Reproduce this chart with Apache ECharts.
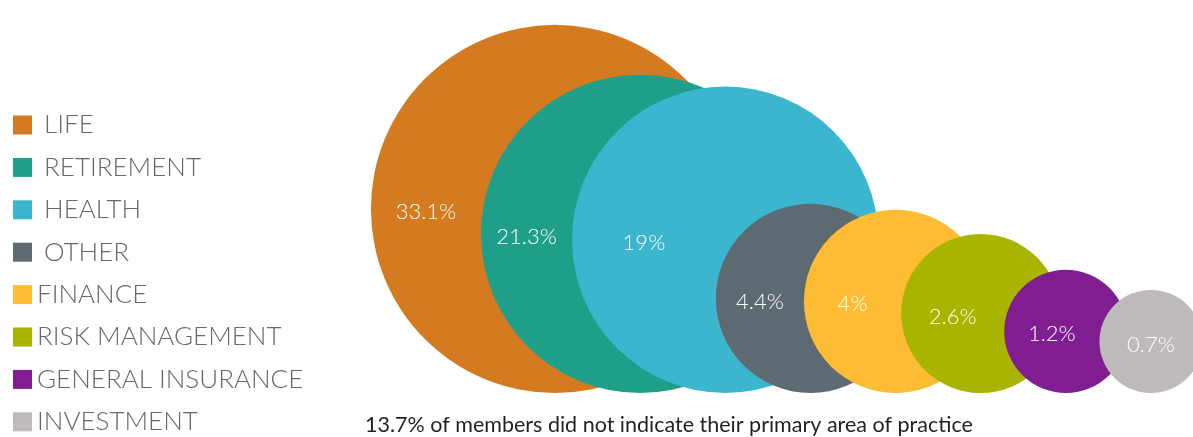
<!DOCTYPE html>
<html>
<head>
<meta charset="utf-8">
<script src="https://cdn.jsdelivr.net/npm/echarts@6/dist/echarts.min.js"></script>
<style>
  html, body { margin: 0; padding: 0; background: #fff; }
  #main { width: 1193px; height: 437px; }
</style>
</head>
<body>
<div id="main"></div>
<script>
// data
var categories = ['LIFE', 'RETIREMENT', 'HEALTH', 'OTHER', 'FINANCE', 'RISK MANAGEMENT', 'GENERAL INSURANCE', 'INVESTMENT'];
var shares = [33.1, 21.3, 19, 4.4, 4, 2.6, 1.2, 0.7];
var labels = ['33.1%', '21.3%', '19%', '4.4%', '4%', '2.6%', '1.2%', '0.7%'];
var note = '13.7% of members did not indicate their primary area of practice';

var colors = ['#D47B22', '#1F9E8A', '#3CB5CE', '#5E6A72', '#FDBC33', '#A9B400', '#7F1D91', '#BDBAB9'];

// layout
var W = 1193, H = 437;
var gridLeft = 555, gridRight = 42, baseY = 393;
var step = (W - gridLeft - gridRight) / (categories.length - 1);

// radius from value (bubble sizes were drawn by hand, this follows them roughly)
function radius(v) { return 58 * Math.pow(v, 0.33); }
var radii = shares.map(radius);

var myChart = echarts.init(document.getElementById('main'));

var series = categories.map(function (name, i) {
    var r = radii[i];
    // label sits in the middle of the part of the circle still visible
    var nextLeft = i < categories.length - 1 ? step - radii[i + 1] : r;
    var dx = (nextLeft - r) / 2;
    return {
        name: name,
        type: 'scatter',
        clip: false,
        silent: true,
        symbol: 'circle',
        symbolSize: r * 2,
        itemStyle: { color: colors[i], opacity: 1 },
        label: {
            show: true,
            position: 'inside',
            offset: [dx, 3],
            formatter: labels[i],
            color: '#fff',
            fontFamily: 'Lato',
            fontSize: 22,
            fontWeight: 300
        },
        emphasis: { disabled: true },
        data: [[name, r]]
    };
});

myChart.setOption({
    animation: false,
    title: {
        text: note,
        left: 365,
        top: 414,
        padding: 0,
        textStyle: {
            fontFamily: 'Lato',
            fontSize: 21.5,
            fontWeight: 'normal',
            color: '#231F20'
        }
    },
    legend: {
        orient: 'vertical',
        left: 13,
        top: 112,
        padding: 0,
        icon: 'rect',
        itemWidth: 19,
        itemHeight: 19,
        itemGap: 16.4,
        selectedMode: false,
        data: categories,
        formatter: function (name) {
            // the first four entries have an extra space in the original
            return categories.indexOf(name) < 4 ? ' ' + name : name;
        },
        textStyle: {
            fontFamily: 'Lato',
            fontSize: 26,
            lineHeight: 26,
            fontWeight: 300,
            color: '#666769'
        }
    },
    grid: {
        left: gridLeft,
        right: gridRight,
        top: 0,
        bottom: H - baseY
    },
    xAxis: {
        type: 'category',
        data: categories,
        boundaryGap: false,
        show: false
    },
    yAxis: {
        type: 'value',
        min: 0,
        max: baseY,
        show: false
    },
    series: series
});
</script>
</body>
</html>
